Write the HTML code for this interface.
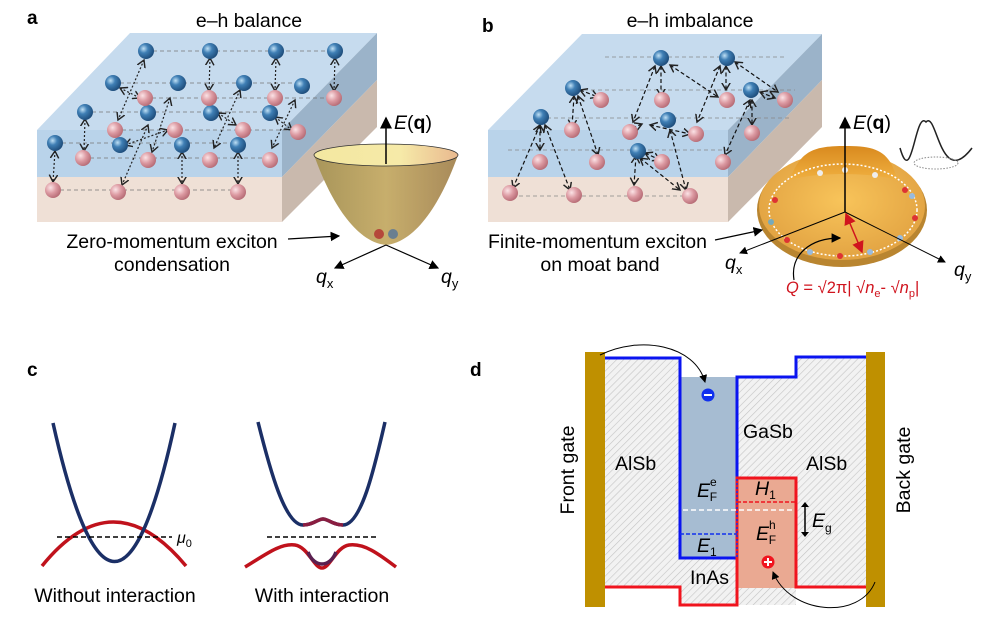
<!DOCTYPE html>
<html><head><meta charset="utf-8"><style>
html,body{margin:0;padding:0;background:#fff}
svg{display:block;font-family:"Liberation Sans",Arial,sans-serif}
</style></head><body>
<svg width="1008" height="624" viewBox="0 0 1008 624" xmlns="http://www.w3.org/2000/svg">
<defs>
<pattern id="h" width="5" height="5" patternUnits="userSpaceOnUse" patternTransform="rotate(45)">
<rect width="5" height="5" fill="#f2f2f2"/><line x1="0" y1="0" x2="0" y2="5" stroke="#c4c4c4" stroke-width="1.2"/></pattern>
<radialGradient id="bs" cx="0.35" cy="0.35" r="0.7"><stop offset="0" stop-color="#bfe0f5"/><stop offset="0.4" stop-color="#3f7fb5"/><stop offset="1" stop-color="#1c4a78"/></radialGradient>
<radialGradient id="ps" cx="0.35" cy="0.35" r="0.7"><stop offset="0" stop-color="#fbe3e6"/><stop offset="0.5" stop-color="#dc9aa2"/><stop offset="1" stop-color="#b56a74"/></radialGradient>
<linearGradient id="bowl" x1="0" x2="1"><stop offset="0" stop-color="#a8955a"/><stop offset="0.5" stop-color="#c7ae6c"/><stop offset="1" stop-color="#a88a5a"/></linearGradient>
<linearGradient id="rim" x1="0" x2="1"><stop offset="0" stop-color="#f3e7a0"/><stop offset="0.6" stop-color="#f6eaa8"/><stop offset="1" stop-color="#e9b98f"/></linearGradient>
<radialGradient id="moat" cx="0.5" cy="0.45" r="0.6"><stop offset="0" stop-color="#f8c45a"/><stop offset="1" stop-color="#e0a040"/></radialGradient>
<linearGradient id="dome" x1="0" x2="0" y1="0" y2="1"><stop offset="0" stop-color="#d98a1e"/><stop offset="1" stop-color="#f0b040"/></linearGradient>
<marker id="ar" markerWidth="8" markerHeight="8" refX="7" refY="4" orient="auto-start-reverse"><path d="M0,0 L8,4 L0,8 Z" fill="#000"/></marker>
<marker id="ao" markerWidth="8" markerHeight="8" refX="6" refY="4" orient="auto-start-reverse"><path d="M0,0.5 L6,4 L0,7.5" fill="none" stroke="#222" stroke-width="1.2"/></marker>
<marker id="rr" markerWidth="8" markerHeight="8" refX="7" refY="4" orient="auto-start-reverse"><path d="M0,0 L8,4 L0,8 Z" fill="#d0141e"/></marker>
</defs>

<!-- Panel a -->
<text x="27" y="24" font-size="19" font-weight="bold">a</text>
<text x="249" y="27" font-size="19.5" text-anchor="middle">e–h balance</text>
<polygon points="37,130 130,33 377,33 282,130" fill="#c6dbee"/>
<polygon points="37,130 282,130 282,177 37,177" fill="#b9d3ea"/>
<polygon points="37,177 282,177 282,222 37,222" fill="#efe0d6"/>
<polygon points="282,130 377,33 377,80 282,177" fill="#9bb3c9"/>
<polygon points="282,177 377,80 377,127 282,222" fill="#c9b9ad"/>
<g stroke="#777" stroke-dasharray="4,3" stroke-width="0.8" fill="none">
<path d="M146,51H335 M113,83H302 M85,112H270 M55,143H238 M53,190H238 M145,98H334 M115,130H298 M83,158H270"/>
</g>
<g stroke="#222" stroke-dasharray="2,2" stroke-width="1.2" marker-start="url(#ao)" marker-end="url(#ao)">
<line x1="210" y1="58" x2="209" y2="91"/><line x1="276" y1="58" x2="275" y2="91"/><line x1="335" y1="58" x2="334" y2="91"/>
<line x1="55" y1="151" x2="53" y2="182"/><line x1="85" y1="119" x2="84" y2="151"/><line x1="182" y1="152" x2="182" y2="184"/><line x1="238" y1="152" x2="238" y2="184"/>
<line x1="144" y1="60" x2="118" y2="120"/><line x1="120" y1="88" x2="140" y2="98"/><line x1="170" y1="98" x2="152" y2="152"/>
<line x1="148" y1="125" x2="122" y2="185"/><line x1="125" y1="145" x2="168" y2="130"/><line x1="218" y1="113" x2="236" y2="125"/>
<line x1="240" y1="90" x2="214" y2="148"/><line x1="295" y1="100" x2="272" y2="148"/><line x1="275" y1="117" x2="292" y2="130"/>
</g>
<g fill="url(#bs)"><circle cx="146" cy="51" r="8"/><circle cx="210" cy="51" r="8"/><circle cx="276" cy="51" r="8"/><circle cx="335" cy="51" r="8"/><circle cx="113" cy="83" r="8"/><circle cx="178" cy="83" r="8"/><circle cx="244" cy="83" r="8"/><circle cx="302" cy="86" r="8"/><circle cx="85" cy="112" r="8"/><circle cx="148" cy="113" r="8"/><circle cx="211" cy="113" r="8"/><circle cx="270" cy="113" r="8"/><circle cx="55" cy="143" r="8"/><circle cx="120" cy="145" r="8"/><circle cx="182" cy="145" r="8"/><circle cx="238" cy="145" r="8"/></g>
<g fill="url(#ps)"><circle cx="145" cy="98" r="8"/><circle cx="209" cy="98" r="8"/><circle cx="275" cy="98" r="8"/><circle cx="334" cy="98" r="8"/><circle cx="115" cy="130" r="8"/><circle cx="175" cy="130" r="8"/><circle cx="243" cy="130" r="8"/><circle cx="298" cy="132" r="8"/><circle cx="83" cy="158" r="8"/><circle cx="148" cy="160" r="8"/><circle cx="210" cy="160" r="8"/><circle cx="270" cy="160" r="8"/><circle cx="53" cy="190" r="8"/><circle cx="118" cy="192" r="8"/><circle cx="182" cy="192" r="8"/><circle cx="238" cy="192" r="8"/></g>
<path d="M314,155 C330,200 355,242 386,245 C417,242 442,200 458,155 Z" fill="url(#bowl)"/>
<ellipse cx="386" cy="155" rx="72" ry="11" fill="url(#rim)" stroke="#333" stroke-width="0.8"/>
<circle cx="379" cy="234" r="5" fill="#b5473a"/><circle cx="393" cy="234" r="5" fill="#6a7f90"/>
<line x1="386" y1="164" x2="386" y2="118" stroke="#000" stroke-width="1.5" marker-end="url(#ar)"/>
<line x1="386" y1="245" x2="335" y2="268" stroke="#000" stroke-width="1.2" marker-end="url(#ar)"/>
<line x1="386" y1="245" x2="438" y2="268" stroke="#000" stroke-width="1.2" marker-end="url(#ar)"/>
<text x="394" y="129" font-size="19.5"><tspan font-style="italic">E</tspan>(<tspan font-weight="bold">q</tspan>)</text>
<text x="316" y="283" font-size="19.5" font-style="italic">q<tspan font-size="13" font-style="normal" dy="5">x</tspan></text>
<text x="441" y="283" font-size="19.5" font-style="italic">q<tspan font-size="13" font-style="normal" dy="5">y</tspan></text>
<text x="172" y="248" font-size="19.5" text-anchor="middle">Zero-momentum exciton</text>
<text x="172" y="271" font-size="19.5" text-anchor="middle">condensation</text>
<line x1="288" y1="239" x2="339" y2="236" stroke="#000" stroke-width="1.2" marker-end="url(#ar)"/>

<!-- Panel b -->
<text x="482" y="32" font-size="19" font-weight="bold">b</text>
<text x="690" y="27" font-size="19.5" text-anchor="middle">e–h imbalance</text>
<polygon points="488,130 582,34 822,34 728,130" fill="#c6dbee"/>
<polygon points="488,130 728,130 728,177 488,177" fill="#b9d3ea"/>
<polygon points="488,177 728,177 728,222 488,222" fill="#efe0d6"/>
<polygon points="728,130 822,34 822,80 728,177" fill="#9bb3c9"/>
<polygon points="728,177 822,80 822,127 728,222" fill="#c9b9ad"/>
<g stroke="#888" stroke-dasharray="4,3" stroke-width="0.8"><path d="M605,57H785 M570,90H795 M540,118H790 M508,150H730 M505,196H700"/></g>
<g stroke="#111" stroke-dasharray="4,2.5" stroke-width="1.2" marker-start="url(#ao)" marker-end="url(#ao)">
<line x1="540" y1="125" x2="513" y2="188"/><line x1="545" y1="125" x2="570" y2="190"/><line x1="540" y1="125" x2="540" y2="150"/>
<line x1="574" y1="96" x2="572" y2="127"/><line x1="578" y1="96" x2="598" y2="155"/><line x1="580" y1="90" x2="598" y2="97"/>
<line x1="655" y1="66" x2="633" y2="122"/><line x1="661" y1="66" x2="661" y2="96"/><line x1="670" y1="65" x2="718" y2="97"/>
<line x1="720" y1="66" x2="697" y2="122"/><line x1="726" y1="66" x2="726" y2="90"/><line x1="735" y1="62" x2="778" y2="92"/>
<line x1="642" y1="124" x2="625" y2="131"/><line x1="650" y1="125" x2="690" y2="134"/><line x1="670" y1="130" x2="686" y2="190"/>
<line x1="636" y1="156" x2="634" y2="185"/><line x1="640" y1="158" x2="680" y2="190"/><line x1="645" y1="153" x2="660" y2="160"/>
<line x1="750" y1="100" x2="725" y2="155"/><line x1="752" y1="100" x2="752" y2="125"/><line x1="760" y1="92" x2="775" y2="98"/>
</g>
<g fill="url(#bs)"><circle cx="661" cy="58" r="8"/><circle cx="727" cy="58" r="8"/><circle cx="573" cy="88" r="8"/><circle cx="751" cy="90" r="8"/><circle cx="541" cy="117" r="8"/><circle cx="668" cy="120" r="8"/><circle cx="638" cy="151" r="8"/></g>
<g fill="url(#ps)"><circle cx="601" cy="100" r="8"/><circle cx="662" cy="100" r="8"/><circle cx="727" cy="100" r="8"/><circle cx="785" cy="100" r="8"/><circle cx="572" cy="130" r="8"/><circle cx="630" cy="132" r="8"/><circle cx="696" cy="134" r="8"/><circle cx="752" cy="133" r="8"/><circle cx="540" cy="162" r="8"/><circle cx="597" cy="162" r="8"/><circle cx="662" cy="162" r="8"/><circle cx="723" cy="162" r="8"/><circle cx="510" cy="193" r="8"/><circle cx="574" cy="195" r="8"/><circle cx="635" cy="194" r="8"/><circle cx="690" cy="196" r="8"/></g>
<!-- moat -->
<ellipse cx="842" cy="210" rx="85" ry="57" fill="#b98530"/>
<ellipse cx="842" cy="206" rx="83" ry="54" fill="url(#moat)"/>
<path d="M790,180 C800,150 815,146 845,146 C875,146 890,150 897,180 C870,172 815,172 790,180 Z" fill="url(#dome)"/>
<ellipse cx="843" cy="210" rx="74" ry="46" fill="none" stroke="#fff" stroke-dasharray="2,2" stroke-width="1.5"/>
<g><circle cx="775" cy="200" r="3" fill="#d33"/><circle cx="771" cy="222" r="3" fill="#7ab"/><circle cx="787" cy="240" r="3" fill="#d33"/><circle cx="810" cy="252" r="3" fill="#9bd"/><circle cx="840" cy="256" r="3" fill="#d33"/><circle cx="870" cy="252" r="3" fill="#9bd"/><circle cx="900" cy="238" r="3" fill="#9bd"/><circle cx="915" cy="218" r="3" fill="#d33"/><circle cx="912" cy="196" r="3" fill="#9bd"/><circle cx="905" cy="190" r="3" fill="#d33"/><circle cx="820" cy="173" r="3" fill="#eee"/><circle cx="845" cy="170" r="3" fill="#eee"/><circle cx="875" cy="175" r="3" fill="#eee"/></g>
<line x1="845" y1="212" x2="845" y2="118" stroke="#000" stroke-width="1.5" marker-end="url(#ar)"/>
<line x1="845" y1="212" x2="740" y2="253" stroke="#000" stroke-width="1" marker-end="url(#ar)"/>
<line x1="845" y1="212" x2="945" y2="262" stroke="#000" stroke-width="1" marker-end="url(#ar)"/>
<line x1="846" y1="214" x2="862" y2="252" stroke="#d0141e" stroke-width="1.5" marker-start="url(#rr)" marker-end="url(#rr)"/>
<path d="M794,280 C790,255 810,238 840,238" fill="none" stroke="#000" stroke-width="1.2" marker-end="url(#ar)"/>
<text x="853" y="129" font-size="19.5"><tspan font-style="italic">E</tspan>(<tspan font-weight="bold">q</tspan>)</text>
<text x="725" y="269" font-size="19.5" font-style="italic">q<tspan font-size="13" font-style="normal" dy="5">x</tspan></text>
<text x="954" y="276" font-size="19.5" font-style="italic">q<tspan font-size="13" font-style="normal" dy="5">y</tspan></text>
<text x="786" y="293" font-size="16.5" fill="#d0141e"><tspan font-style="italic">Q</tspan> = √2π| √<tspan font-style="italic">n</tspan><tspan font-size="11" dy="4">e</tspan><tspan dy="-4">- √</tspan><tspan font-style="italic">n</tspan><tspan font-size="11" dy="4">p</tspan><tspan dy="-4">|</tspan></text>
<path d="M900,148 C912,190 915,110 926,122 C937,110 940,190 972,148" fill="none" stroke="#222" stroke-width="1.5"/>
<ellipse cx="936" cy="163" rx="22" ry="6" fill="none" stroke="#888" stroke-dasharray="1.5,1.5"/>
<text x="488" y="248" font-size="19.5">Finite-momentum exciton</text>
<text x="600" y="271" font-size="19.5" text-anchor="middle">on moat band</text>
<line x1="715" y1="240" x2="762" y2="230" stroke="#000" stroke-width="1.2" marker-end="url(#ar)"/>

<!-- Panel c -->
<text x="27" y="376" font-size="19" font-weight="bold">c</text>
<path d="M42,566 Q113,478 186,566" fill="none" stroke="#c0121c" stroke-width="3.5"/>
<path d="M53,423 Q115,700 175,423" fill="none" stroke="#1b2f66" stroke-width="3.5"/>
<line x1="57" y1="537" x2="172" y2="537" stroke="#000" stroke-width="1.6" stroke-dasharray="5,3"/>
<text x="177" y="543" font-size="16" font-style="italic">μ<tspan font-size="11" font-style="normal" dy="4">0</tspan></text>
<text x="115" y="602" font-size="19.5" text-anchor="middle">Without interaction</text>
<path d="M258,422 C270,470 285,525 303,525 C313,525 318,519 323,519 C328,519 333,525 343,525 C361,525 374,470 385,422" fill="none" stroke="#1b2f66" stroke-width="3.5"/>
<path d="M245,567 C265,555 280,543 295,545 C308,547 314,568 322,568 C330,568 336,547 349,545 C365,543 380,555 396,567" fill="none" stroke="#c0121c" stroke-width="3.5"/>
<path d="M303,525 C313,525 318,519 323,519 C328,519 333,525 343,525" fill="none" stroke="#8a1d40" stroke-width="3.5"/>
<path d="M308,552 C314,568 330,568 336,552" fill="none" stroke="#5a2050" stroke-width="3.5"/>
<line x1="267" y1="537" x2="376" y2="537" stroke="#000" stroke-width="1.6" stroke-dasharray="5,3"/>
<text x="322" y="602" font-size="19.5" text-anchor="middle">With interaction</text>

<!-- Panel d -->
<text x="470" y="376" font-size="19" font-weight="bold">d</text>
<path d="M605,358 H680 V377 H737 V377 H796 V357 H866 V587 H796 V605 H680 V587 H605 Z" fill="url(#h)"/>
<rect x="680" y="377" width="57" height="181" fill="#a6bcd2"/>
<rect x="737" y="478" width="59" height="110" fill="#eaa992"/>
<rect x="585" y="352" width="20" height="255" fill="#bf9000"/>
<rect x="866" y="352" width="19" height="255" fill="#bf9000"/>
<polyline points="605,358 680,358 680,558 737,558 737,377 796,377 796,357 866,357" fill="none" stroke="#0a14f0" stroke-width="3"/>
<polyline points="605,587 680,587 680,605 737,605 737,478 796,478 796,587 866,587" fill="none" stroke="#f0141e" stroke-width="3"/>
<line x1="683" y1="510" x2="792" y2="510" stroke="#fff" stroke-width="1.5" stroke-dasharray="5,3"/>
<line x1="680" y1="534" x2="737" y2="534" stroke="#1030ee" stroke-width="1.5" stroke-dasharray="4,2"/>
<line x1="737" y1="502" x2="796" y2="502" stroke="#f0141e" stroke-width="1.5" stroke-dasharray="4,2"/>
<line x1="737" y1="479" x2="737" y2="557" stroke="#1030ee" stroke-width="1.5" stroke-dasharray="2,2"/>
<text x="615" y="470" font-size="19.5">AlSb</text>
<text x="743" y="438" font-size="19.5">GaSb</text>
<text x="806" y="470" font-size="19.5">AlSb</text>
<text x="690" y="584" font-size="19.5">InAs</text>
<text x="697" y="497" font-size="19.5" font-style="italic">E<tspan font-size="12" font-style="normal" dy="-11">e</tspan><tspan font-size="12" font-style="normal" dx="-7" dy="15">F</tspan></text>
<text x="697" y="552" font-size="19.5" font-style="italic">E<tspan font-size="12" font-style="normal" dy="4">1</tspan></text>
<text x="755" y="495" font-size="19.5" font-style="italic">H<tspan font-size="12" font-style="normal" dy="4">1</tspan></text>
<text x="756" y="540" font-size="19.5" font-style="italic">E<tspan font-size="12" font-style="normal" dy="-11">h</tspan><tspan font-size="12" font-style="normal" dx="-7" dy="15">F</tspan></text>
<line x1="805" y1="506" x2="805" y2="533" stroke="#000" stroke-width="1.5"/>
<path d="M801,507 L805,502 L809,507 Z M801,532 L805,537 L809,532 Z" fill="#000"/>
<text x="812" y="527" font-size="19.5" font-style="italic">E<tspan font-size="12" font-style="normal" dy="5">g</tspan></text>
<circle cx="708" cy="395" r="6.5" fill="#1030ee"/><rect x="704" y="394" width="8" height="2" fill="#fff"/>
<circle cx="768" cy="562" r="6.5" fill="#f0141e"/><rect x="764" y="561" width="8" height="2" fill="#fff"/><rect x="767" y="558" width="2" height="8" fill="#fff"/>
<path d="M600,355 C640,335 695,345 705,382" fill="none" stroke="#000" stroke-width="1" marker-end="url(#ar)"/>
<path d="M875,582 C860,620 790,615 773,572" fill="none" stroke="#000" stroke-width="1" marker-end="url(#ar)"/>
<text transform="translate(574,470) rotate(-90)" font-size="19.5" text-anchor="middle">Front gate</text>
<text transform="translate(910,470) rotate(-90)" font-size="19.5" text-anchor="middle">Back gate</text>
</svg>
</body></html>
